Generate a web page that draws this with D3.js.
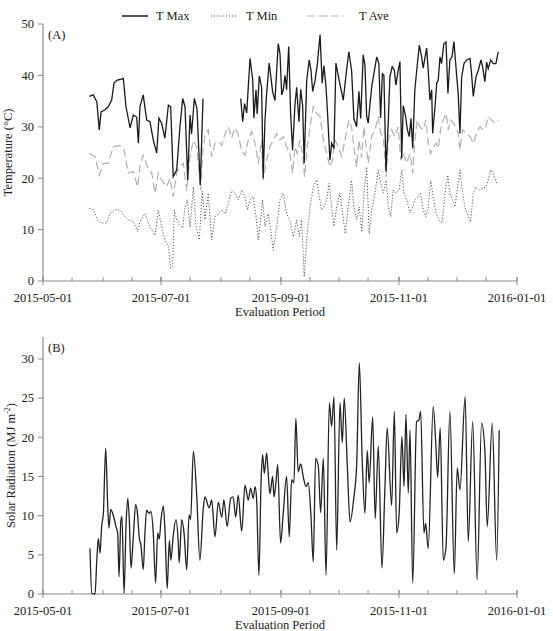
<!DOCTYPE html>
<html>
<head>
<meta charset="utf-8">
<script src="https://cdn.jsdelivr.net/npm/d3@7"></script>
<style>
  html, body { margin: 0; padding: 0; background: #fff; }
  svg { display: block; }
  text { font-family: "Liberation Serif", "Times New Roman", serif; fill: #222; }
</style>
</head>
<body>
<svg id="chart" width="553" height="631"></svg>
<script>
// ---- DATA (day offsets from 2015-05-01) ----
const tmaxDay = [23.9,26,27.8,29.1,30,32,33.7,35.5,36.7,38.4,39.8,41.5,42.9,45,46.7,48.4,49.3,50.1,51.8,53.6,55.3,57,58.8,59.9,61.3,63,64.8,66,67.3,69.1,70.8,72.2,73.4,74.8,76,76.8,78.2,79.6,81.3,82.7,
  null,
  102.2,103.2,104.2,105.3,107,108.4,109,110.1,110.7,111.8,113,113.8,114.7,115.6,116.9,118.7,119.9,121.6,122.5,123.4,124.2,125.1,125.9,127,128,129,130.2,131.1,132.3,133.2,134.2,135,136.3,137.6,138.5,139.4,140.6,141.8,143.2,144.3,145.2,146.3,147.1,148.3,149.2,150.4,151.4,153.1,155.2,156.9,158.1,159.5,160.7,162.1,163.3,164.2,165.5,166.4,167.3,168.1,169.9,172.5,173.6,174.5,175.4,176.2,177.3,178.5,179.3,180.5,181.6,182.4,183.6,184.5,185.4,186.2,187.4,188.3,189.3,190.2,191.1,192.2,193.1,194.5,195.7,196.5,198.3,199.1,200,200.9,201.4,202.6,203.5,204.3,205.2,206,207.2,208.3,209.3,210.3,211.4,212.4,213.8,214.6,215.5,216.4,217.6,219,220.7,221.5,222.4,223.8,225,226.4,227.2,228.4,229.3,230.1,231.4,232.7,234.1,235.3];
const tmaxVal = [35.9,36.2,34.9,29.4,32.9,33.3,33.9,35.2,38.5,39.1,39.2,39.4,33.9,29.8,32.3,31.9,26.8,33.9,36.2,31.3,31,27.4,24.9,31.7,30.7,27.8,34.2,33.9,20.3,21.6,30,35.5,33.9,19.6,32.3,28.6,35.5,33.5,18.7,35.5,
  null,
  35.5,31,34.5,32.7,43.3,39.1,31.7,37.2,32.5,39.9,37.7,20,31,36.5,42.4,36.8,35.1,46.2,44.2,36.2,37.2,40,37.2,45.6,32.5,25.5,34.1,37.7,31,37.3,34.1,22.9,39,43,41,36.9,39,42.2,47.9,38.5,41.9,37.7,32.5,23.5,26.8,25.8,42.4,39,35.2,41,44.6,41,31.6,30,36.9,31.6,44,42,32,30.7,37.8,43.6,42.3,31.7,40.3,40,21.3,31.4,39.7,41.7,41,38.1,41,42.7,23.9,34.1,32.1,29.5,28.1,31.6,25.8,37.2,40.7,45.9,43.6,41.4,45.3,41,35.2,37.2,28.7,33.8,38.5,39.1,43.6,42.3,46.2,46.5,36.5,43,43.6,46.6,40,36.5,28.7,39.7,42.3,43,43.3,40.4,35.9,39.7,41,43,41.7,38.8,42.6,41.3,43,42.3,42.3,44.6];

const tminDay = [23.9,26,28.1,30.3,32.9,34.6,37.2,39.8,42.4,44.1,46.7,48.9,50.1,52.7,55.3,57.9,59.6,61.3,63,64.8,66,67,67.9,69.1,70.4,72.2,73.4,74.6,76,77.7,79.1,80.8,82.3,83.7,85.4,87.2,88.9,90.6,92.4,94.1,95.8,97.5,99.2,100.9,102.7,104.4,105.6,107,108.7,110.1,111.3,112.5,113.5,114.7,116.4,117.7,119,120.8,122.5,124.2,125.9,127.6,129.4,131.1,132.5,133.7,135,136.3,138,139.7,141.4,142.8,144,145.2,146.6,147.9,149.2,150.4,151.8,153.5,154.9,156.2,157.8,159.5,160.7,162.1,163.5,164.8,165.9,167.3,168.6,169.9,171.6,173.3,174.5,175.9,177.3,178.5,179.7,181,182.4,184.1,185.4,186.6,188,189.7,191.1,192.2,193.9,195.2,196.5,197.8,199.1,200.4,201.7,203.1,204.8,206.2,207.8,209.2,210.3,211.7,212.9,214.3,215.5,216.9,218.1,219.3,221,222.4,223.8,225.5,227.2,228.9,230.1,231.5,232.7,234.5];
const tminVal = [14.1,13.9,11.9,11.3,11.3,13.1,13.9,13.8,12.5,11.9,11.6,9.6,11.6,13.1,10.5,8.9,13.8,10.5,8,6.7,2.5,2.8,13.8,11.9,11,10.3,14.4,15.8,10.5,18.3,10.5,8,17.5,11.9,17.1,8,12.5,13.1,13.8,13.1,15,17.7,17.1,15.8,17.7,16.4,13.8,15.8,16.4,12.5,8,11.9,15.8,10.6,13.1,9.9,6,10.6,15.8,17.1,13.1,11.9,8.6,11.9,8.6,11.9,0.8,8,14.4,18.3,19.7,16.4,13.8,14.4,15.8,19,14.4,10.6,14.4,17.1,13.1,9.2,14.4,19.6,14.4,11.9,14.4,9.5,17.1,22.2,9.2,13.8,17.1,21.6,19,17.1,19.6,14.4,12.5,17.7,17.1,17.7,21.6,17.1,15.8,13.2,14.4,15.8,16.4,17.1,13.8,12.5,14.4,19.6,16.4,13.1,11.9,11.2,17.1,20.6,17.1,15.8,14.4,18.3,21.6,17.1,14.4,13.1,11.5,17.1,18.3,17.7,18,18.3,19.6,21.6,20.9,19];

const taveDay = [23.9,26.9,29.1,31.2,33.7,36.3,39.8,41.9,44.1,46.7,48.9,50.1,51.8,53.9,56.2,57.9,59.6,61.3,63.9,65.6,67.3,69.1,70.8,72.5,74.3,76,77.7,79.4,81.5,82.8,83.9,85.4,87.2,88.9,90.6,92.4,94.1,95.8,97.5,99.2,100.9,102.7,104.4,106.1,107.9,109.6,111.3,113,113.8,115.6,117.3,119,120.8,122.5,124.2,125.9,127.6,129,130.2,131.4,132.8,134.2,135.2,136.6,138,139.7,141.4,143.2,144.9,146.6,148.3,149.7,150.9,152.6,154.4,156.1,158.1,159.5,160.7,162.1,163.3,164.7,165.9,166.8,168.1,169.9,171.6,173.3,174.5,175.9,177.3,178.5,180.2,181.9,183.6,184.9,186.2,188,189.7,191.1,192.2,193.4,194.8,196.5,197.9,199.1,200.4,201.7,203.1,204.3,205.5,206.9,208.3,209.5,210.7,212.1,213.4,214.6,215.5,216.9,219,220.7,222.4,224.1,225.8,227.5,228.9,230.1,231.9,233.6,235.3];
const taveVal = [24.8,24.2,20.6,22.9,22.9,26.1,26.4,25.4,21,21.3,18.3,22.3,24.5,22.3,21,17.1,21,19.7,18.3,20,16.4,21,22.3,22.9,17.5,24.2,27.4,26.1,17.7,26.1,28.5,29.4,24.2,26.8,27.1,26.4,28.7,30,27.8,29.8,28.5,25.2,24.5,27.4,29.1,26.8,22.9,27.4,19.6,23.5,26.1,27.4,28.7,27.4,28.1,26.1,24.8,21,26.1,24.8,27.4,24.8,20.3,26.1,30,33.9,32.6,32,27.4,24.8,22.2,23.5,27.4,26.1,24.2,27.4,31.3,30,26.1,22.2,27.4,24,30,27,22.9,28.1,29.4,32,28.7,28.1,20.3,27.4,29.4,28.1,30,23.5,24.8,22.9,24.8,21,27.4,31.3,30,29.4,31.3,26.8,24.8,26.1,26.8,25.8,29.4,31.3,32.6,29.4,31.3,30.7,30,28.7,25.5,29.4,28.7,28.1,26.8,28.7,30,29.4,30,32,31.3,30.7,31.3];

const solarDay = [24.3,25.2,26.9,27.8,28.6,29.5,30.3,31.2,32.4,33.4,34.1,35,36,36.7,37.7,38.6,39.3,40.2,40.8,41.9,42.9,43.8,44.6,45.5,46.7,47.9,48.9,49.8,50.6,51.8,52.7,53.6,54.8,55.8,57,58.2,59.3,60.1,61,62.2,63.1,64.2,65.3,66.1,67.3,68.7,69.9,70.4,71.7,72.9,74.3,75.5,76.3,77.7,79.4,81.1,82.8,83.7,85.9,87.2,88.9,90.6,92.4,93.5,95.2,97,98.3,99.6,100.9,102.7,104.4,106.1,107.3,108.7,109.6,110.4,111.6,112.7,113.5,114.4,115.6,116.4,117.3,118.7,119.4,120.4,121.3,122.8,124.2,125.9,127.3,128.5,129.7,130.7,131.9,133.2,134.5,135.9,137.1,138.5,139.7,140.9,142.3,143.5,144.9,146.3,148,149.2,150.4,151.8,153.5,154.7,155.7,157.3,158.7,160.7,162.1,163.5,165,166.4,167.6,168.6,170.4,171.7,173.3,175.2,176.7,177.9,180.2,181.6,182.8,184.1,185.5,186.6,187.6,188.8,189.7,191.1,193.1,194.3,195.2,196.9,197.8,199.1,201.7,203.1,204,205.3,206.9,208.3,210.3,212.6,214.1,215.5,218.2,219.8,222.1,224.4,226.7,228.4,229.6,232.2,234.5,235.8];
const solarVal = [5.8,0.1,0,4.3,7.1,5.2,8.6,10.3,18.6,11.6,8.4,10.8,10.3,9.7,8.6,7.8,2.2,9.2,9.9,0.1,8.6,12.2,9.5,3.3,7.4,11.4,10.1,7.1,6.3,3.1,7.8,10.7,10.3,10.5,7.8,1.4,7.8,7,9.5,11.2,7.8,0.7,6.8,4.3,7.4,9.5,6.6,4,9.5,7.8,3.1,10.1,9.5,18.2,12.9,4.3,10.8,12.4,11,12,7.3,11.7,9.8,12,8.6,12.2,12.4,9.8,12.6,8,13.9,12,13.5,12.2,13.7,12.2,2.4,14.2,17.8,15.4,18,15.4,12.8,15,12.4,14.2,16.5,6.5,10.4,15,7.3,14.6,14.2,22.4,15.6,16.6,15,13.7,14.2,10,4.1,17.3,16.3,10.4,17.3,2.4,24.4,21.4,25.2,5.6,24.4,19.3,25,16.3,9.2,12.4,16.3,29.5,17,10.3,18.3,14.2,22.6,9.6,18.9,3.3,13.3,21.2,11.3,23.3,7.8,10.3,20.1,13.7,22.9,12.9,20.9,1.4,22,22.2,23.3,7.8,9,5.8,23.9,18.8,14.9,21.2,4.3,6,23.3,2.6,16.1,13.3,25.2,6.7,22,1.8,21.8,18.3,8.6,21.8,4.3,20.9];

const tempTicks = [0, 10, 20, 30, 40, 50];
const solarTicks = [0, 5, 10, 15, 20, 25, 30];
const dateTickLabels = ["2015-05-01", "2015-07-01", "2015-09-01", "2015-11-01", "2016-01-01"];
const legendLabels = ["T Max", "T Min", "T Ave"];

// ---- LAYOUT ----
const svg = d3.select("#chart");
const base = new Date(2015, 4, 1);
const toDate = d => d == null ? null : new Date(base.getTime() + d * 864e5);
const parse = d3.timeParse("%Y-%m-%d");
const x = d3.scaleTime().domain([parse("2015-05-01"), parse("2016-01-01")]).range([43, 517]);
const axisColor = "#8a8a8a";

const panels = [
  { top: 24, bottom: 281, domain: [0, 50], ticks: tempTicks, label: "(A)", title: "Temperature (\u00B0C)", titleX: 12 },
  { top: 337, bottom: 594, domain: [0, 32.8], ticks: solarTicks, label: "(B)", title: null, titleX: 15 }
];

const majorDates = dateTickLabels.map(parse);
const minorDates = [];
for (let m = new Date(2015, 4, 1); m <= new Date(2016, 0, 1); m = d3.timeMonth.offset(m, 1)) {
  minorDates.push(m);
  if (m < new Date(2016, 0, 1)) minorDates.push(new Date(m.getFullYear(), m.getMonth(), 16));
}

panels.forEach((p, i) => {
  const y = d3.scaleLinear().domain(p.domain).range([p.bottom, p.top]);
  p.y = y;
  const g = svg.append("g");
  g.append("line").attr("x1", 43).attr("x2", 43).attr("y1", p.top).attr("y2", p.bottom)
    .attr("stroke", axisColor).attr("stroke-width", 1.2);
  g.selectAll(".yt").data(p.ticks).join("line")
    .attr("x1", 38).attr("x2", 43).attr("y1", d => y(d)).attr("y2", d => y(d))
    .attr("stroke", axisColor).attr("stroke-width", 1);
  g.selectAll(".yl").data(p.ticks).join("text")
    .attr("x", 34).attr("y", d => y(d)).attr("dy", "0.35em")
    .attr("text-anchor", "end").attr("font-size", 12.5).text(d => d);
  g.append("line").attr("x1", 43).attr("x2", 517).attr("y1", p.bottom).attr("y2", p.bottom)
    .attr("stroke", axisColor).attr("stroke-width", 1.2);
  g.selectAll(".xm").data(minorDates).join("line")
    .attr("x1", d => x(d)).attr("x2", d => x(d))
    .attr("y1", p.bottom - 4).attr("y2", p.bottom)
    .attr("stroke", axisColor).attr("stroke-width", 1);
  g.selectAll(".xM").data(majorDates).join("line")
    .attr("x1", d => x(d)).attr("x2", d => x(d))
    .attr("y1", p.bottom - 4).attr("y2", p.bottom + 4)
    .attr("stroke", axisColor).attr("stroke-width", 1);
  g.selectAll(".xl").data(majorDates).join("text")
    .attr("x", d => x(d)).attr("y", p.bottom + 21)
    .attr("text-anchor", "middle").attr("font-size", 12.5)
    .text(d => d3.timeFormat("%Y-%m-%d")(d));
  g.append("text").attr("x", 280).attr("y", p.bottom + 35)
    .attr("text-anchor", "middle").attr("font-size", 12.5).text("Evaluation Period");
  g.append("text").attr("x", 48).attr("y", p.top + 15).attr("font-size", 12.5).text(p.label);
  const yc = (p.top + p.bottom) / 2;
  const t = g.append("text").attr("transform", `translate(${p.titleX},${yc}) rotate(-90)`)
    .attr("text-anchor", "middle").attr("font-size", 12.5);
  if (p.title) t.text(p.title);
  else {
    t.append("tspan").text("Solar Radiation (MJ m");
    t.append("tspan").attr("font-size", 8).attr("dy", -5).text("-2");
    t.append("tspan").attr("dy", 5).text(")");
  }
});

// ---- PANEL A LINES ----
const yA = panels[0].y, yB = panels[1].y;
function seriesA(days, vals) {
  return days.map((d, i) => ({ d: toDate(d), v: vals[i] }));
}
const lineA = d3.line().defined(p => p.d != null && p.v != null)
  .x(p => x(p.d)).y(p => yA(p.v));

svg.append("path").datum(seriesA(taveDay, taveVal)).attr("d", lineA)
  .attr("fill", "none").attr("stroke", "#b0b0b0").attr("stroke-width", 1.2)
  .attr("stroke-dasharray", "8,4");
svg.append("path").datum(seriesA(tminDay, tminVal)).attr("d", lineA)
  .attr("fill", "none").attr("stroke", "#5a5a5a").attr("stroke-width", 1)
  .attr("stroke-dasharray", "1.2,1.8");
svg.append("path").datum(seriesA(tmaxDay, tmaxVal)).attr("d", lineA)
  .attr("fill", "none").attr("stroke", "#1a1a1a").attr("stroke-width", 1.3);

// ---- PANEL B LINE ----
const lineB = d3.line().curve(d3.curveMonotoneX)
  .x(p => x(p.d)).y(p => yB(p.v));
svg.append("path").datum(solarDay.map((d, i) => ({ d: toDate(d), v: solarVal[i] })))
  .attr("d", lineB).attr("fill", "none").attr("stroke", "#222").attr("stroke-width", 1.3);

// ---- LEGEND ----
const legendItems = [
  { x1: 122, x2: 148, tx: 156, color: "#1a1a1a", dash: null, w: 1.5 },
  { x1: 211, x2: 237, tx: 246, color: "#5a5a5a", dash: "1.2,1.8", w: 1 },
  { x1: 307, x2: 344, tx: 359, color: "#b0b0b0", dash: "8,4", w: 1.2 }
];
legendItems.forEach((l, i) => {
  svg.append("line").attr("x1", l.x1).attr("x2", l.x2).attr("y1", 16).attr("y2", 16)
    .attr("stroke", l.color).attr("stroke-width", l.w).attr("stroke-dasharray", l.dash);
  svg.append("text").attr("x", l.tx).attr("y", 16).attr("dy", "0.35em")
    .attr("font-size", 12.5).text(legendLabels[i]);
});
</script>
</body>
</html>
